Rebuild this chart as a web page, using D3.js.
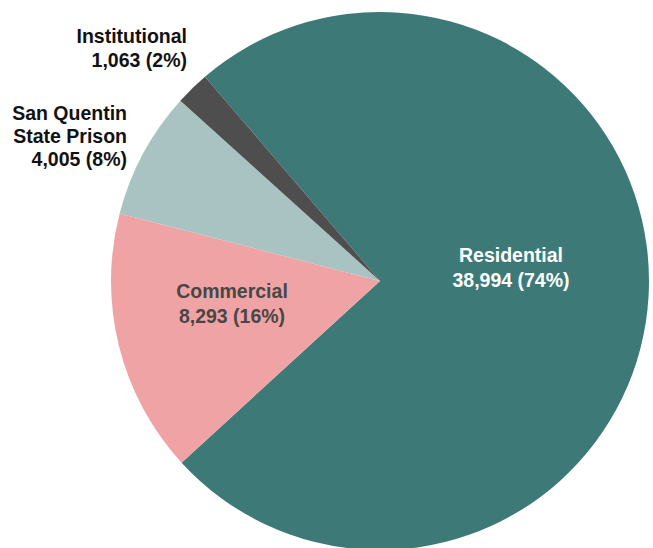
<!DOCTYPE html>
<html>
<head>
<meta charset="utf-8">
<script src="https://cdn.jsdelivr.net/npm/d3@7"></script>
<style>
html, body { margin: 0; padding: 0; background: #fff; }
svg { display: block; }
text { font-family: "Liberation Sans", Arial, sans-serif; font-weight: bold; }
</style>
</head>
<body>
<svg id="chart" width="653" height="548"></svg>
<script>
const categories = ["Residential", "Commercial", "San Quentin State Prison", "Institutional"];
const values = [38994, 8293, 4005, 1063];
const percentLabels = ["74%", "16%", "8%", "2%"];
const colors = ["#3d7a77", "#f0a3a4", "#a9c3c2", "#4e4e4e"];

const svg = d3.select("#chart");
const cx = 380, cy = 281, r = 269;
const g = svg.append("g").attr("transform", `translate(${cx},${cy})`);

const startDeg = -40.6;
const pie = d3.pie().sort(null).value(d => d)
  .startAngle(startDeg * Math.PI / 180)
  .endAngle((startDeg + 360) * Math.PI / 180);
const arcs = pie(values);
const arc = d3.arc().innerRadius(0).outerRadius(r);

g.selectAll("path.slice").data(arcs).enter().append("path")
  .attr("class", "slice")
  .attr("d", arc)
  .attr("fill", (d, i) => colors[i]);

const fmt = d3.format(",");
function labelLines(i) {
  const name = categories[i] === "San Quentin State Prison" ? ["San Quentin", "State Prison"] : [categories[i]];
  return name.concat([`${fmt(values[i])} (${percentLabels[i]})`]);
}

// label configs: position (absolute), anchor, colour, line height
const labelCfg = [
  { x: 511, y: 262, anchor: "middle", fill: "#ffffff", lh: 24.5 },
  { x: 232, y: 298, anchor: "middle", fill: "#474747", lh: 24.5 },
  { x: 127, y: 120, anchor: "end", fill: "#111111", lh: 23 },
  { x: 187, y: 43, anchor: "end", fill: "#111111", lh: 23.5 }
];

labelCfg.forEach((c, i) => {
  const t = svg.append("text")
    .attr("x", c.x).attr("y", c.y)
    .attr("text-anchor", c.anchor)
    .attr("fill", c.fill)
    .style("font-size", "19.5px");
  labelLines(i).forEach((line, j) => {
    t.append("tspan").attr("x", c.x).attr("y", c.y + j * c.lh).text(line);
  });
});
</script>
</body>
</html>
